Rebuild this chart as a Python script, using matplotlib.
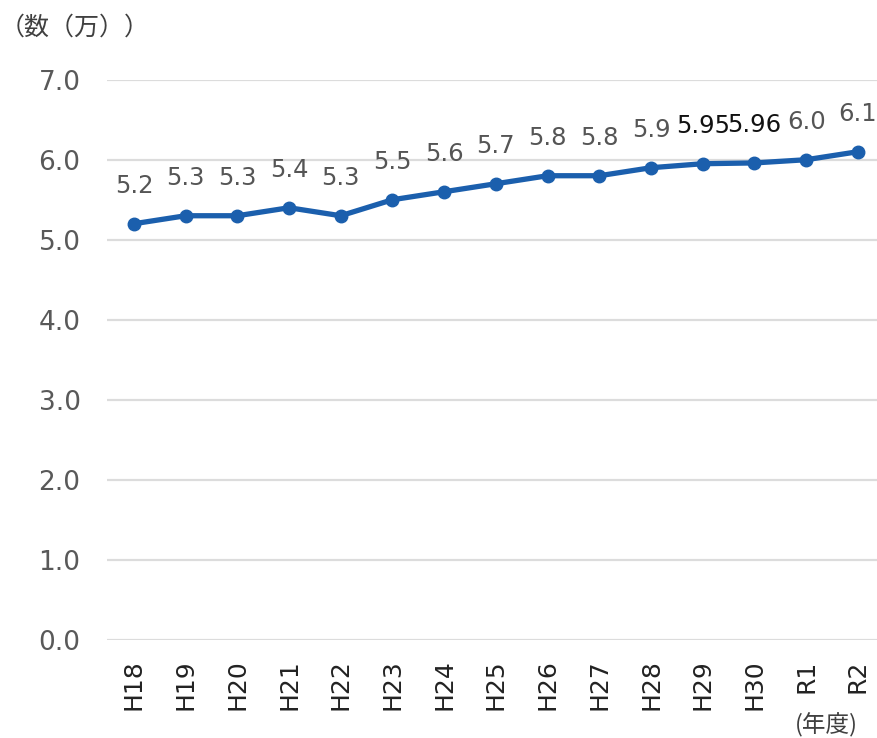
import matplotlib.pyplot as plt

plt.rcParams['font.family'] = ['DejaVu Sans', 'Noto Sans CJK JP']

years = ['H18', 'H19', 'H20', 'H21', 'H22', 'H23', 'H24', 'H25',
         'H26', 'H27', 'H28', 'H29', 'H30', 'R1', 'R2']
counts = [5.2, 5.3, 5.3, 5.4, 5.3, 5.5, 5.6, 5.7,
          5.8, 5.8, 5.9, 5.95, 5.96, 6.0, 6.1]
yticks = [0, 1, 2, 3, 4, 5, 6, 7]

fig = plt.figure(figsize=(8.77, 7.38), dpi=100)
ax = fig.add_axes([0.122, 0.133, 0.878, 0.759])

x = list(range(len(years)))
ax.plot(x, counts, color='#1b5fad', lw=3.8, marker='o', ms=9, zorder=3)

# data labels; the two-decimal ones are drawn darker
for xi, v in zip(x, counts):
    txt = f'{v:.2f}' if round(v, 1) != v else f'{v:.1f}'
    col = '#111111' if len(txt) > 3 else '#555555'
    ax.annotate(txt, (xi, v), xytext=(0, 27), textcoords='offset points',
                ha='center', va='center', fontsize=17.5, color=col)

ax.set_xlim(-0.52, 14.37)
ax.set_ylim(0, 7)
ax.set_yticks(yticks)
ax.set_yticklabels([f'{t:.1f}' for t in yticks], fontsize=19, color='#595959')
ax.set_xticks(x)
ax.set_xticklabels(years, rotation=90, fontsize=18, color='#222222')
ax.tick_params(axis='both', length=0)
ax.tick_params(axis='y', pad=19)
ax.tick_params(axis='x', pad=14)
ax.grid(axis='y', color='#dcdcdc', lw=1.6)
ax.set_axisbelow(True)
for s in ax.spines.values():
    s.set_visible(False)

fig.text(0.0, 0.962, '（数（万））', fontsize=18, color='#404040', va='center',
         family=['Noto Sans CJK JP'])
fig.text(0.942, 0.018, '(年度)', fontsize=17, color='#404040', va='center', ha='center',
         family=['Noto Sans CJK JP'])

fig.savefig('out.png', dpi=100)
